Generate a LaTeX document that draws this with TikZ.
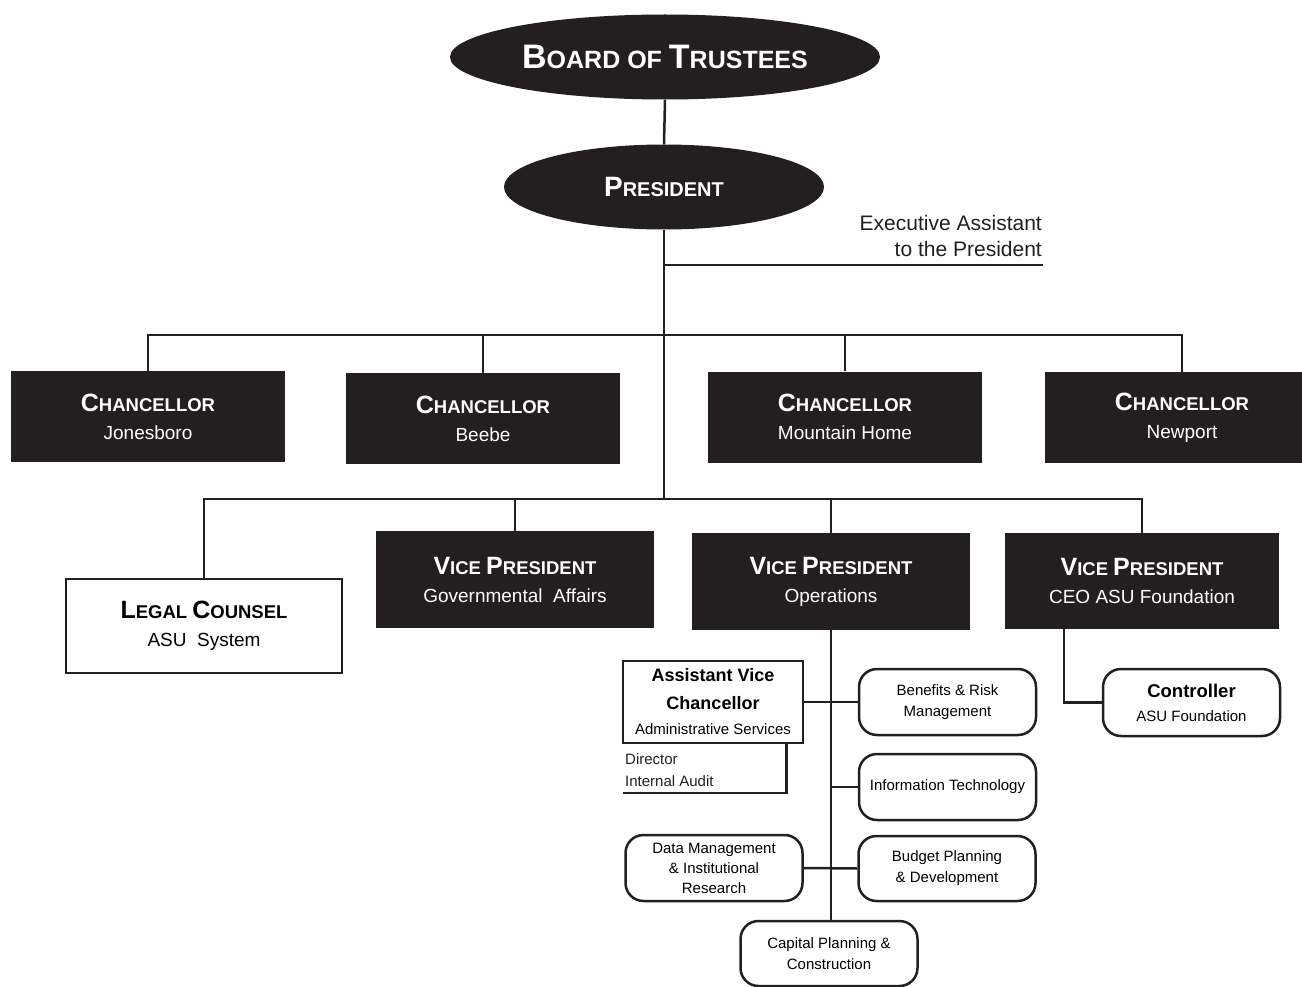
\documentclass[tikz,border=0pt]{standalone}
\usepackage{fontspec}
\setmainfont{Liberation Sans}
\usetikzlibrary{shapes.geometric}
\definecolor{ink}{RGB}{35,31,32}
\newcommand\SCx[4]{{\fontsize{#1}{28}\selectfont #3}{\fontsize{#2}{28}\selectfont #4}}
\begin{document}
\begin{tikzpicture}[x=1pt,y=-1pt,
  line/.style={draw=ink,line width=2.5pt},
  oval/.style={ellipse,fill=ink,text=white,inner sep=0pt,font=\bfseries},
  darkbox/.style={rectangle,fill=ink,text=white,inner sep=0pt,align=center,font=\fontsize{19}{28}\selectfont},
  outlinebox/.style={rectangle,draw=ink,line width=2.5pt,fill=white,inner sep=0pt,align=center,font=\fontsize{19}{28}\selectfont},
  rbox/.style={rectangle,rounded corners=18pt,draw=ink,line width=2.5pt,fill=white,inner sep=0pt,align=center,font=\fontsize{15}{21}\selectfont,minimum width=177pt,minimum height=66pt},
  plain/.style={inner sep=0pt,text=ink}
]
\useasboundingbox (0,0) rectangle (1302,987);

% top
\node[oval,minimum width=430pt,minimum height=85pt] (board) at (665,57) {\SCx{34}{25}{B}{OARD OF }\SCx{34}{25}{T}{RUSTEES}};
\node[oval,minimum width=320pt,minimum height=85pt] (pres) at (664,187) {\SCx{28}{20}{P}{RESIDENT}};

\node[plain,align=right,anchor=south east,font=\fontsize{21}{26}\selectfont] (ea) at (1042,257) {Executive Assistant\\to the President};
\coordinate (eaend) at (1043,265);

% chancellors
\node[darkbox,minimum width=274pt,minimum height=91pt] (c1) at (148,416.5) {{\bfseries\SCx{25}{18.5}{C}{HANCELLOR}}\\Jonesboro};
\node[darkbox,minimum width=274pt,minimum height=91pt] (c2) at (483,418.5) {{\bfseries\SCx{25}{18.5}{C}{HANCELLOR}}\\Beebe};
\node[darkbox,minimum width=274pt,minimum height=91pt] (c3) at (845,417) {{\bfseries\SCx{25}{18.5}{C}{HANCELLOR}}\\Mountain Home};
\node[darkbox,minimum width=274pt,minimum height=91pt] (c4) at (1182,417.5) {{\bfseries\SCx{25}{18.5}{C}{HANCELLOR}}\\Newport};

% vice presidents
\node[outlinebox,minimum width=276pt,minimum height=94pt] (legal) at (204,626) {{\bfseries\SCx{25}{18.5}{L}{EGAL }\SCx{25}{18.5}{C}{OUNSEL}}\\ASU~ System};
\node[darkbox,minimum width=278pt,minimum height=97pt] (gov) at (515,579.5) {{\bfseries\SCx{25}{18.5}{V}{ICE }\SCx{25}{18.5}{P}{RESIDENT}}\\Governmental~ Affairs};
\node[darkbox,minimum width=278pt,minimum height=97pt] (ops) at (831,581.5) {{\bfseries\SCx{25}{18.5}{V}{ICE }\SCx{25}{18.5}{P}{RESIDENT}}\\Operations};
\node[darkbox,minimum width=274pt,minimum height=96pt] (ceo) at (1142,581) {{\bfseries\SCx{25}{18.5}{V}{ICE }\SCx{25}{18.5}{P}{RESIDENT}}\\CEO ASU Foundation};

% operations units
\node[outlinebox,minimum width=180pt,minimum height=82pt,font=\fontsize{15}{25}\selectfont] (avc) at (713,702) {{\bfseries\fontsize{18}{28}\selectfont Assistant Vice}\\[3pt]{\bfseries\fontsize{18}{28}\selectfont Chancellor}\\Administrative Services};
\node[rbox] (ben) at (947.5,702) {Benefits \& Risk\\Management};
\node[rbox] (it) at (947.5,787) {Information Technology};
\node[rbox,minimum height=65pt] (bud) at (947,868.5) {Budget Planning\\\& Development};
\node[rbox,font=\fontsize{15}{20}\selectfont] (data) at (714,868) {Data Management\\\& Institutional\\Research};
\node[rbox,minimum height=65pt] (cap) at (829,953.5) {Capital Planning \&\\Construction};
\node[rbox,minimum height=67pt,font=\fontsize{15}{24}\selectfont] (ctrl) at (1191.5,702.5) {{\bfseries\fontsize{18.5}{24}\selectfont Controller}\\ASU Foundation};

\node[plain,align=left,anchor=north west,font=\fontsize{15}{22}\selectfont] (dir) at (625,753) {Director\\Internal Audit};
\coordinate (dirend) at (623,793);

% connectors
\coordinate (bus1) at (664,335);
\coordinate (bus2) at (664,499);
\draw[line] (board.south) -- (pres.north);
\draw[line] (pres.south) -- (bus2);
\draw[line] (eaend) -- (eaend -| pres.south);
\draw[line] (c1.north) |- (bus1) -| (c4.north);
\draw[line] (c2.north) -- (c2.north |- bus1);
\draw[line] (c3.north) -- (c3.north |- bus1);
\draw[line] (legal.north) |- (bus2) -| (ceo.north);
\draw[line] (gov.north) -- (gov.north |- bus2);
\draw[line] (ops.north) -- (ops.north |- bus2);

\draw[line] (ops.south) -- (ops.south |- cap.north);
\draw[line] (avc.east) -- (ben.west);
\draw[line] (it.west) -- (it.west -| ops.south);
\draw[line] (data.east) -- (bud.west);
\draw[line] ([xshift=-18pt]avc.south east) |- (dirend);
\draw[line] ([xshift=-78pt]ceo.south) |- (ctrl.west);
\end{tikzpicture}
\end{document}
